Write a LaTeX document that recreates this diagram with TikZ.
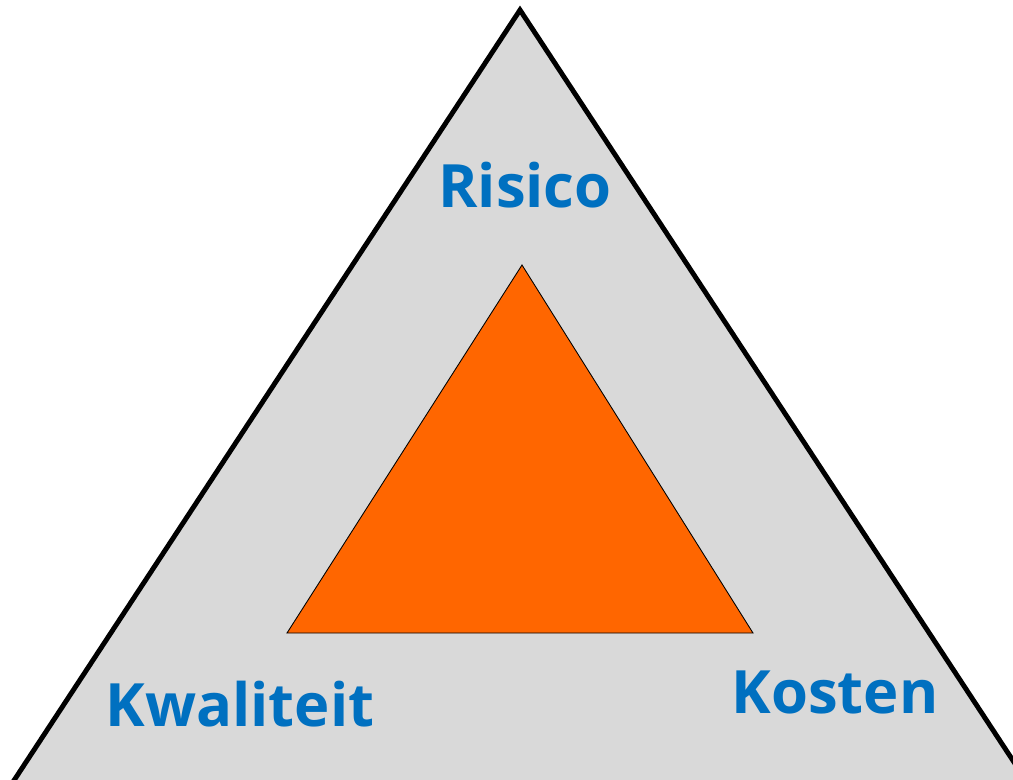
\documentclass[tikz,border=0pt]{standalone}
\usepackage{fontspec}
\setsansfont{Open Sans}
\usepackage{xcolor}
\definecolor{cBlue}{HTML}{0070C0}
\definecolor{cOrange}{HTML}{FF6600}
\definecolor{cGray}{HTML}{D9D9D9}
\usetikzlibrary{positioning}
\tikzset{
  tri-outer/.style={draw=black,line width=2.8pt,fill=cGray,line join=miter},
  tri-inner/.style={draw=black,line width=0.5pt,fill=cOrange},
  label-text/.style={text=cBlue,font=\sffamily\bfseries\fontsize{34}{34}\selectfont,
    inner sep=0pt,anchor=base},
}

\begin{document}
\begin{tikzpicture}[x=0.02cm,y=-0.02cm]
  \useasboundingbox (0,0) rectangle (1013,779);
  \clip (0,0) rectangle (1013,779);
  % buitenste driehoek
  \coordinate (top) at (520,10);
  \coordinate (bl) at (-35,855);
  \coordinate (br) at (1075,855);
  \draw[tri-outer] (top) -- (bl) -- (br) -- cycle;
  % binnenste driehoek
  \coordinate (itop) at (522,265);
  \coordinate (ibl) at (287,633);
  \coordinate (ibr) at (753,633);
  \draw[tri-inner] (itop) -- (ibl) -- (ibr) -- cycle;
  \node[label-text] (risico) at (525,207) {Risico};
  \node[label-text] (kwaliteit) at (240,726) {Kwaliteit};
  \node[label-text] (kosten) at (835,713) {Kosten};
\end{tikzpicture}
\end{document}
